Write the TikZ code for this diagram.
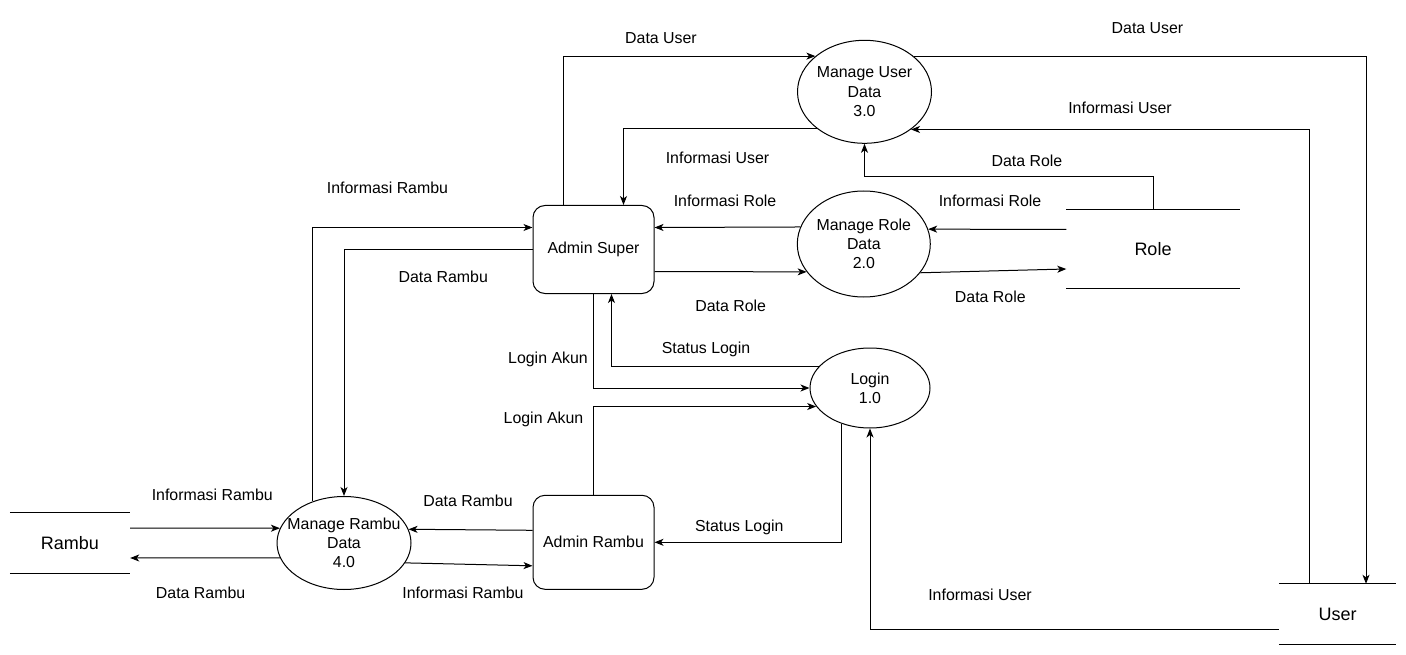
\documentclass[tikz,border=0pt]{standalone}
\usepackage{fontspec}
\setmainfont{Liberation Sans}
\usepackage{tikz}
\usetikzlibrary{arrows.meta, calc, positioning, shapes.geometric}

\newcommand{\dfdfont}{\fontsize{15.9pt}{19.3pt}\selectfont}
\newcommand{\storefont}{\fontsize{18pt}{21pt}\selectfont}

\tikzset{
  process/.style={draw, ellipse, line width=1pt, inner xsep=-10pt, inner ysep=0pt, align=center, font=\dfdfont},
  entity/.style={draw, line width=1pt, rounded corners=12pt, minimum width=121pt, minimum height=88pt, font=\dfdfont},
  datastore/.style={inner sep=0pt, font=\storefont},
  flow/.style={->, line width=1pt},
  lbl/.style={inner sep=0pt, font=\dfdfont},
}

\begin{document}
\begin{tikzpicture}[x=1pt, y=-1pt, >={Stealth[length=9pt, width=7pt, inset=2.5pt]}]
    \useasboundingbox (0,0) rectangle (1406,655);

    % entities
    \node[entity] (super) at (593.5,249.5) {Admin Super};
    \node[entity, minimum height=94pt] (arambu) at (593.5,542.3) {Admin Rambu};

    % processes
    \node[process, minimum width=134pt, minimum height=103pt] (mud) at (864.5,91.8) {Manage User\\Data\\3.0};
    \node[process, minimum width=133pt, minimum height=106pt] (mrd) at (863.8,244) {Manage Role\\Data\\2.0};
    \node[process, minimum width=120pt, minimum height=80pt] (login) at (870,388) {Login\\1.0};
    \node[process, minimum width=134pt, minimum height=93pt] (mrbd) at (344,543) {Manage Rambu\\Data\\4.0};

    % data stores
    \node[datastore, minimum width=120pt, minimum height=60pt] (rambu) at (70,543) {Rambu};
    \node[datastore, minimum width=173pt, minimum height=78pt] (role) at (1153,249) {Role};
    \node[datastore, minimum width=117pt, minimum height=60pt] (user) at (1337.5,614) {User};
    \foreach \s in {rambu, role, user} {
        \draw[line width=1pt] (\s.north west) -- (\s.north east);
        \draw[line width=1pt] (\s.south west) -- (\s.south east);
    }

    % user data
    \draw[flow] ([xshift=-30pt]super.north) |- (mud.144.3);
    \draw[flow] (mud.35.7) -| ([xshift=28.5pt]user.north);
    \draw[flow] ([xshift=-28.5pt]user.north) |- (mud.321.3);
    \draw[flow] (mud.218.7) -| ([xshift=30pt]super.north);
    \draw[flow] (role.north) -- ++(0,-33.3) -| (mud.south);

    % role data
    \draw[flow] ([yshift=19.5pt]role.west) -- (mrd.13.2);
    \draw[flow] (mrd.333.4) -- ([yshift=-20pt]role.west);
    \draw[flow] (mrd.165.6) -- ([yshift=22pt]super.east);
    \draw[flow] ([yshift=-22pt]super.east) -- (mrd.206.6);

    % login
    \draw[flow] (super.south) |- (login);
    \draw[flow] (login.157.7) -| ([xshift=18pt]super.south);
    \draw[flow] (arambu.north) |- (login.199.8);
    \draw[flow] (login.232.5) |- (arambu.east);
    \draw[flow] ([yshift=-15pt]user.west) -| (login.south);

    % rambu data
    \draw[flow] (mrbd.127.5) |- ([yshift=22pt]super.west);
    \draw[flow] (super.west) -| (mrbd.north);
    \draw[flow] ([yshift=12pt]arambu.west) -- (mrbd.12);
    \draw[flow] (mrbd.342.4) -- ([yshift=-23.5pt]arambu.west);
    \draw[flow] ([yshift=15pt]rambu.east) -- (mrbd.167);
    \draw[flow] (mrbd.193.6) -- ([yshift=-15pt]rambu.east);

    % flow labels
    \node[lbl] (du1) at (661,38.3) {Data User};
    \node[lbl] (du2) at (1147.5,28.3) {Data User};
    \node[lbl] (iu1) at (1120,108.3) {Informasi User};
    \node[lbl] (iu2) at (717.5,158.3) {Informasi User};
    \node[lbl] (iu3) at (980,595) {Informasi User};
    \node[lbl] (dro1) at (1027,161) {Data Role};
    \node[lbl] (dro2) at (730.7,306) {Data Role};
    \node[lbl] (dro3) at (990.3,296.5) {Data Role};
    \node[lbl] (iro1) at (990,201) {Informasi Role};
    \node[lbl] (iro2) at (725,201) {Informasi Role};
    \node[lbl] (la1) at (548,359.3) {Login Akun};
    \node[lbl] (la2) at (543.5,419.3) {Login Akun};
    \node[lbl] (sl1) at (706,349.3) {Status Login};
    \node[lbl] (sl2) at (739.3,527.3) {Status Login};
    \node[lbl] (ira1) at (387.5,188.3) {Informasi Rambu};
    \node[lbl] (ira2) at (212.3,495) {Informasi Rambu};
    \node[lbl] (ira3) at (463,593.3) {Informasi Rambu};
    \node[lbl] (dra1) at (443.3,276.7) {Data Rambu};
    \node[lbl] (dra2) at (468,501) {Data Rambu};
    \node[lbl] (dra3) at (200.6,593.3) {Data Rambu};
\end{tikzpicture}
\end{document}
